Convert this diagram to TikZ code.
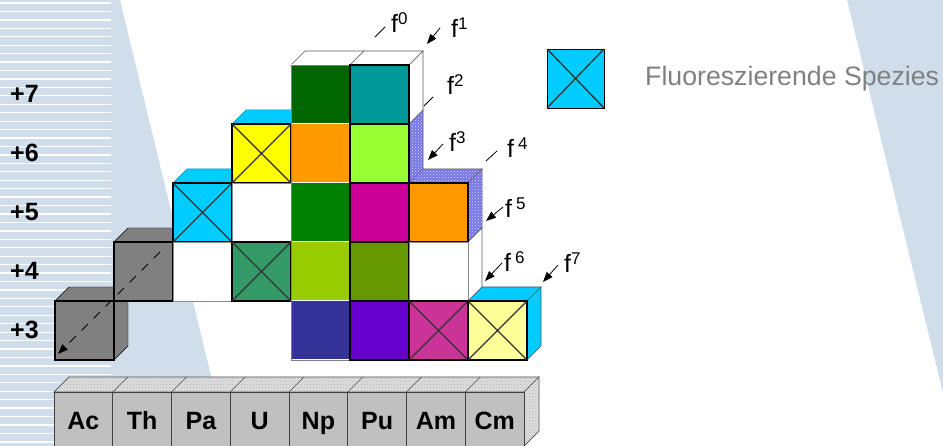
\documentclass[tikz,border=0pt]{standalone}
\usepackage{fontspec}
\setmainfont{Liberation Sans}
\usetikzlibrary{patterns,arrows.meta}
\definecolor{bgblue}{RGB}{208,222,236}
\definecolor{greyc}{RGB}{128,128,128}
\definecolor{cyanc}{RGB}{0,204,255}
\definecolor{dkgreen}{RGB}{0,102,0}
\definecolor{tealc}{RGB}{0,153,153}
\definecolor{orangec}{RGB}{255,153,0}
\definecolor{gyellow}{RGB}{153,255,51}
\definecolor{greenc}{RGB}{0,128,0}
\definecolor{magc}{RGB}{204,0,153}
\definecolor{ygreen}{RGB}{153,204,0}
\definecolor{olivec}{RGB}{102,153,0}
\definecolor{dkblue}{RGB}{51,51,153}
\definecolor{purplec}{RGB}{102,0,204}
\definecolor{pinkc}{RGB}{204,51,153}
\definecolor{lyellow}{RGB}{255,255,153}
\definecolor{seagreenc}{RGB}{51,153,102}
\definecolor{yellowc}{RGB}{255,255,0}
\definecolor{patblue}{RGB}{118,118,230}
\definecolor{elgrey}{RGB}{192,192,192}
\definecolor{eltop}{RGB}{222,222,222}
\definecolor{legtext}{RGB}{128,128,128}
\definecolor{xline}{RGB}{51,51,51}
\newcommand{\topf}[3]{\filldraw[#3] (#1,#2) -- ++(14,-14) -- ++(59,0) -- ++(-14,14) -- cycle;}
\newcommand{\sidef}[3]{\filldraw[#3] (#1+59,#2) -- ++(14,-14) -- ++(0,59) -- ++(-14,14) -- cycle;}
\newcommand{\frontf}[3]{\filldraw[#3] (#1,#2) rectangle ++(59,59);}
\newcommand{\xmark}[2]{\draw[xline, line width=1.3pt] (#1,#2) -- ++(59,59) (#1+59,#2) -- ++(-59,59);}
\newcommand{\fsup}[1]{\raisebox{8.5pt}{\fontsize{17}{17}\selectfont #1}}
\begin{document}
\begin{tikzpicture}[x=1pt,y=-1pt,
  thinedge/.style={draw=black!65, line width=0.7pt},
  cellblk/.style={draw=black, line width=1.6pt},
  cellgry/.style={draw=black!45, line width=0.8pt},
  patface/.style={fill=patblue, draw=black!65, line width=0.7pt,
    postaction={pattern=crosshatch dots, pattern color=white!85!blue}},
  oxlab/.style={font=\bfseries\fontsize{25}{25}\selectfont, anchor=base west, inner sep=0pt},
  ellab/.style={font=\bfseries\fontsize{25}{25}\selectfont, anchor=base, inner sep=0pt},
  flab/.style={font=\fontsize{25}{25}\selectfont, anchor=base west, inner sep=0pt},
  arr/.style={-{Triangle[length=10pt,width=7.5pt]}, line width=0.8pt},
  tick/.style={line width=0.8pt}]
\useasboundingbox (0,0) rectangle (943,446);
% ---------- background ----------
\fill[bgblue] (0,0) -- (120,0) -- (228,446) -- (0,446) -- cycle;
\foreach \k in {0,...,52} \draw[white, line width=1.3pt] (0,{3+8.44*\k}) -- (111,{3+8.44*\k});
\fill[bgblue] (847,0) -- (943,0) -- (943,393) -- cycle;
% ---------- Ac (+3) grey cube ----------
\topf{55}{301}{fill=greyc}
\sidef{55}{301}{fill=greyc}
\frontf{55}{301}{fill=greyc, cellblk}
% ---------- Th (+4) grey cube ----------
\topf{114}{242}{fill=greyc}
\sidef{114}{242}{fill=greyc}
\frontf{114}{242}{fill=greyc, cellblk}
% dashed arrow
\coordinate (dA) at (160,252);
\coordinate (dB) at (58,354);
\draw[arr, dashed, dash pattern=on 9pt off 8pt] (dA) -- (dB);
% ---------- Pa ----------
\topf{173}{183}{fill=cyanc, draw=cyanc!70!black, line width=0.5pt}
\frontf{173}{183}{fill=cyanc, cellblk}
\xmark{173}{183}
\frontf{173}{242}{fill=white, cellgry}
% ---------- U ----------
\topf{232}{124}{fill=cyanc, draw=cyanc!70!black, line width=0.5pt}
\frontf{232}{124}{fill=yellowc, cellblk}
\xmark{232}{124}
\frontf{232}{183}{fill=white, cellgry}
\frontf{232}{242}{fill=seagreenc, cellblk}
\xmark{232}{242}
% ---------- Np / Pu tops ----------
\topf{291}{65}{fill=white, thinedge}
\topf{350}{65}{fill=white, thinedge}
\sidef{350}{65}{fill=white, thinedge}
\sidef{350}{124}{patface}
% ---------- Np column ----------
\frontf{291}{65}{fill=dkgreen, draw=white, line width=1pt}
\frontf{291}{124}{fill=orangec, draw=white, line width=1pt}
\frontf{291}{183}{fill=greenc, draw=white, line width=1pt}
\frontf{291}{242}{fill=ygreen, draw=white, line width=1pt}
\frontf{291}{301}{fill=dkblue, draw=white, line width=1pt}
\draw[draw=black!50, line width=0.9pt] (291,65) rectangle (350,360);
% ---------- Pu column ----------
\frontf{350}{65}{fill=tealc, cellblk}
\frontf{350}{124}{fill=gyellow, cellblk}
\frontf{350}{183}{fill=magc, cellblk}
\frontf{350}{242}{fill=olivec, cellblk}
\frontf{350}{301}{fill=purplec, cellblk}
% ---------- Am ----------
\topf{409}{183}{patface}
\sidef{409}{183}{patface}
\sidef{409}{242}{fill=white, thinedge}
\frontf{409}{183}{fill=orangec, cellblk}
\frontf{409}{242}{fill=white, cellgry}
\frontf{409}{301}{fill=pinkc, cellblk}
\xmark{409}{301}
% ---------- Cm ----------
\topf{468}{301}{fill=cyanc, thinedge}
\sidef{468}{301}{fill=cyanc, thinedge}
\frontf{468}{301}{fill=lyellow, cellblk}
\xmark{468}{301}
% ---------- f labels ----------
\node[flab] (f0) at (391,33) {f\fsup{0}};
\node[flab] (f1) at (451,38) {f\fsup{1}};
\node[flab] (f2) at (447,95) {f\fsup{2}};
\node[flab] (f3) at (449,152) {f\fsup{3}};
\node[flab] (f4) at (507,158) {f\hspace{4pt}\fsup{4}};
\node[flab] (f5) at (505,218) {f\hspace{4pt}\fsup{5}};
\node[flab] (f6) at (504,272) {f\hspace{4pt}\fsup{6}};
\node[flab] (f7) at (564,273) {f\fsup{7}};
\coordinate (t0a) at (385,27); \coordinate (t0b) at (375,37);
\coordinate (t1a) at (440,28); \coordinate (t1b) at (427,44);
\coordinate (t2a) at (433,97); \coordinate (t2b) at (424,106);
\coordinate (t3a) at (443,144); \coordinate (t3b) at (428,160);
\coordinate (t4a) at (497,151); \coordinate (t4b) at (486,161);
\coordinate (t5a) at (503,207); \coordinate (t5b) at (486,221);
\coordinate (t6a) at (502,263); \coordinate (t6b) at (485,281);
\coordinate (t7a) at (558,265); \coordinate (t7b) at (543,282);
\draw[tick] (t0a) -- (t0b);
\draw[arr] (t1a) -- (t1b);
\draw[tick] (t2a) -- (t2b);
\draw[arr] (t3a) -- (t3b);
\draw[tick] (t4a) -- (t4b);
\draw[arr] (t5a) -- (t5b);
\draw[arr] (t6a) -- (t6b);
\draw[arr] (t7a) -- (t7b);
% ---------- oxidation state labels ----------
\node[oxlab] (ox7) at (10,103) {+7};
\node[oxlab] (ox6) at (10,162) {+6};
\node[oxlab] (ox5) at (10,221) {+5};
\node[oxlab] (ox4) at (10,280) {+4};
\node[oxlab] (ox3) at (10,339) {+3};
% ---------- element row ----------
\filldraw[fill=eltop, draw=black!70, line width=0.7pt, postaction={pattern=crosshatch dots, pattern color=black!30}]
  (54,392) -- (69,377) -- (539,377) -- (524,392) -- cycle;
\filldraw[fill=eltop, draw=black!70, line width=0.7pt, postaction={pattern=crosshatch dots, pattern color=black!30}]
  (524,392) -- (539,377) -- (539,431) -- (524,446) -- cycle;
\foreach \i/\el in {0/Ac,1/Th,2/Pa,3/U,4/Np,5/Pu,6/Am,7/Cm}{
  \filldraw[fill=elgrey, draw=black!75, line width=0.8pt] ({54+58.75*\i},392) rectangle ++(58.75,60);
  \draw[black!70, line width=0.7pt] ({54+58.75*\i},392) -- ++(15,-15);
  \node[ellab] (el\el) at ({54+58.75*\i+29.4},429) {\el};
}
% ---------- legend ----------
\filldraw[fill=cyanc, draw=black, line width=0.9pt] (547,49) rectangle (604,108);
\draw[xline, line width=1.3pt] (547,49) -- (604,108) (604,49) -- (547,108);
\node[font=\fontsize{26.7}{26.7}\selectfont, text=legtext, anchor=base west, inner sep=0pt] (leg) at (645,86) {Fluoreszierende Spezies};
\end{tikzpicture}
\end{document}
